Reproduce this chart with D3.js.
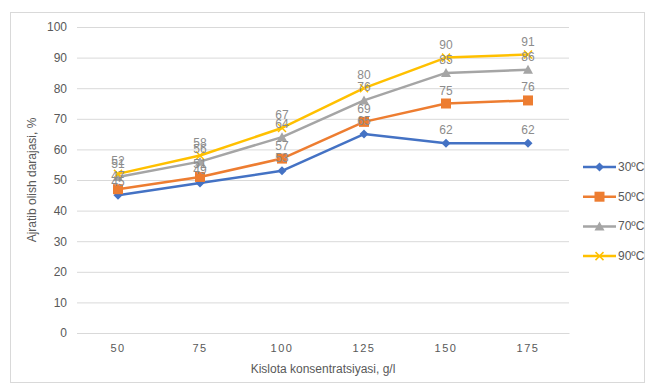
<!DOCTYPE html>
<html><head><meta charset="utf-8">
<script src="https://cdn.jsdelivr.net/npm/d3@7"></script>
<style>body{margin:0;background:#fff;font-family:Calibri,"Liberation Sans Narrow","Open Sans",sans-serif}</style>
</head><body>
<svg id="c" width="649" height="385"></svg>
<script>
const categories = ["50","75","100","125","150","175"];
const seriesNames = ["30ºC","50ºC","70ºC","90ºC"];
const s30 = [45,49,53,65,62,62];
const s50 = [47,51,57,69,75,76];
const s70 = [51,56,64,76,85,86];
const s90 = [52,58,67,80,90,91];
const yTicks = [0,10,20,30,40,50,60,70,80,90,100];
const colors = ["#4472C4","#ED7D31","#A5A5A5","#FFC000"];
const markers = ["diamond","square","triangle","x"];
const series = [s30,s50,s70,s90];

const svg = d3.select("#c");
const font = "'Liberation Sans',Arial,sans-serif";
svg.append("rect").attr("x",10.5).attr("y",12.5).attr("width",634).attr("height",370)
  .attr("fill","#fff").attr("stroke","#d9d9d9");

const L=77, R=569, T=27, B=333;
const x = d3.scaleBand().domain(categories).range([L,R]);
const y = d3.scaleLinear().domain([0,100]).range([B,T]);
const cx = c => x(c)+x.bandwidth()/2;

const g = svg.append("g");
const yAxis = d3.axisLeft(y).tickValues(yTicks).tickSize(-(R-L)).tickPadding(10);
g.append("g").attr("transform",`translate(${L},0)`).call(yAxis)
 .call(a=>{a.select(".domain").remove();
   a.selectAll("line").attr("stroke","#d9d9d9");
   a.selectAll("text").attr("fill","#595959").attr("font-size",12).attr("font-family",font);});
const xAxis = d3.axisBottom(x).tickSize(0).tickPadding(11);
g.append("g").attr("transform",`translate(0,${B})`).call(xAxis)
 .call(a=>{a.select(".domain").attr("stroke","#d9d9d9");
   a.selectAll("text").attr("fill","#595959").attr("font-size",11).attr("font-family",font).attr("letter-spacing","1.5px");});

svg.append("text").attr("x",(L+R)/2).attr("y",373).attr("text-anchor","middle")
 .attr("font-size",12).attr("fill","#595959").attr("font-family",font).text("Kislota konsentratsiyasi, g/l");
svg.append("text").attr("transform",`translate(36,${(T+B)/2}) rotate(-90)`).attr("text-anchor","middle")
 .attr("font-size",12).attr("fill","#595959").attr("font-family",font).text("Ajratib olish darajasi, %");

function marker(sel, type, color){
  if(type==="diamond") sel.append("path").attr("d","M0,-4.5L4.5,0L0,4.5L-4.5,0Z").attr("fill",color);
  else if(type==="square") sel.append("rect").attr("x",-5).attr("y",-5).attr("width",10).attr("height",10).attr("fill",color);
  else if(type==="triangle") sel.append("path").attr("d","M0,-5L5,4L-5,4Z").attr("fill",color);
  else sel.append("path").attr("d","M-4,-4L4,4M-4,4L4,-4").attr("stroke",color).attr("stroke-width",1.5);
}
const line = d3.line().x((d,i)=>cx(categories[i])).y(d=>y(d));
series.forEach((s,k)=>{
  const sg = svg.append("g");
  sg.append("path").datum(s).attr("d",line).attr("fill","none").attr("stroke",colors[k]).attr("stroke-width",2.5).attr("stroke-linejoin","round");
  s.forEach((v,i)=>{
    const m = sg.append("g").attr("transform",`translate(${cx(categories[i])},${y(v)})`);
    marker(m, markers[k], colors[k]);
  });
});
series.forEach((s,k)=>{
  s.forEach((v,i)=>{
    svg.append("text").attr("x",cx(categories[i])).attr("y",y(v)-9).attr("text-anchor","middle")
      .attr("font-size",12).attr("fill","#8c8c8c").attr("font-family",font).text(v);
  });
});

const lg = svg.append("g");
seriesNames.forEach((n,k)=>{
  const yy = 167 + k*29.7;
  lg.append("line").attr("x1",583).attr("x2",616).attr("y1",yy).attr("y2",yy).attr("stroke",colors[k]).attr("stroke-width",2.5);
  const m = lg.append("g").attr("transform",`translate(599.5,${yy})`);
  marker(m, markers[k], colors[k]);
  lg.append("text").attr("x",618).attr("y",yy+4).attr("font-size",12).attr("fill","#595959").attr("font-family",font).text(n);
});
</script>
</body></html>
